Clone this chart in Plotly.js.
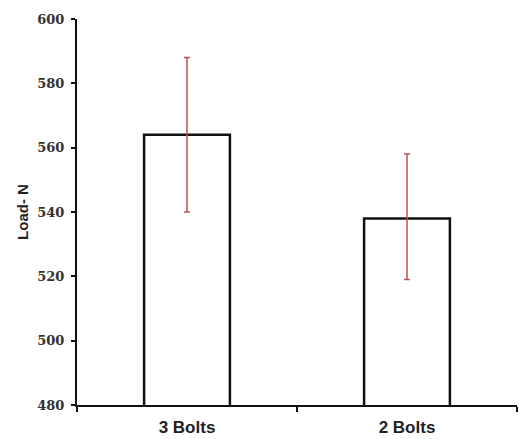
<!DOCTYPE html>
<html><head><meta charset="utf-8">
<script src="https://cdn.plot.ly/plotly-3.0.1.min.js"></script>
<style>body{margin:0;background:#fff}#c{width:519px;height:439px}</style>
</head><body><div id="c"></div>
<script>
const categories = ["3 Bolts", "2 Bolts"];
const loads = [564, 538];
const errPlus = [24, 20];
const errMinus = [24, 19];
const yTicks = [480, 500, 520, 540, 560, 580, 600];

Plotly.newPlot("c", [{
  type: "bar", x: categories, y: loads,
  marker: {color: "#ffffff", line: {color: "#111111", width: 2.5}},
  error_y: {type: "data", symmetric: false, array: errPlus, arrayminus: errMinus,
            color: "#c0504d", thickness: 1.5, width: 3},
  width: 0.39
}], {
  width: 519, height: 439,
  margin: {l: 77, r: 2, t: 19, b: 34},
  paper_bgcolor: "#fff", plot_bgcolor: "#fff",
  showlegend: false,
  xaxis: {showline: true, linecolor: "#111", linewidth: 2, ticks: "outside", tickson: "boundaries",
          ticklen: 5, tickcolor: "#111", tickwidth: 2, ticklabelstandoff: 6,
          tickfont: {family: "Liberation Sans, Arial", size: 17, color: "#222", weight: "bold"},
          showgrid: false, zeroline: false},
  yaxis: {range: [480, 600], tickvals: yTicks, showline: true, linecolor: "#111", linewidth: 2,
          ticks: "outside", ticklen: 4, tickcolor: "#111", tickwidth: 2, ticklabelstandoff: 4,
          tickfont: {family: "DejaVu Serif", size: 13, color: "#333", weight: "bold"},
          showgrid: false, zeroline: false,
          title: {text: "Load- N", standoff: 5, font: {family: "Liberation Sans, Arial", size: 15, color: "#222", weight: "bold"}}}
}, {displayModeBar: false});
</script></body></html>
